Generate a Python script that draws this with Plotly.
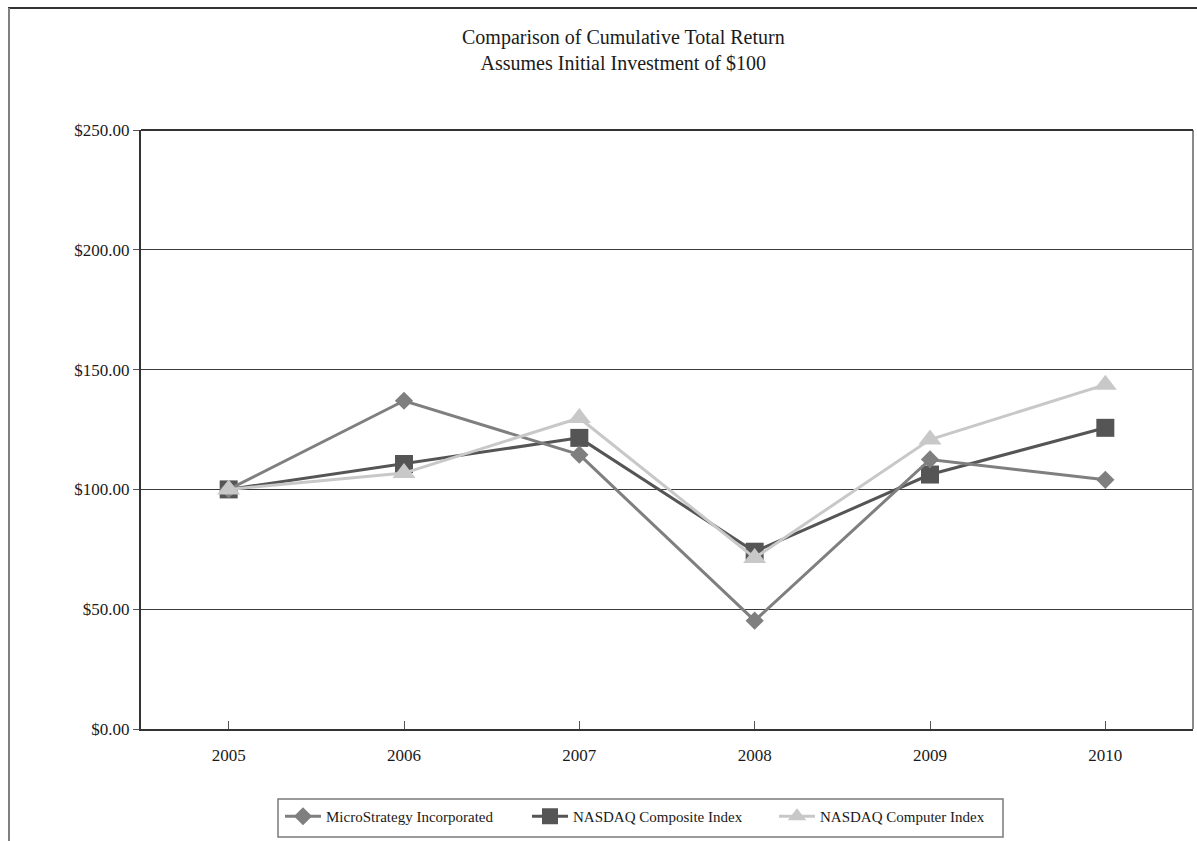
import plotly.graph_objects as go

years = ["2005", "2006", "2007", "2008", "2009", "2010"]
microstrategy = [100.0, 137.0, 114.5, 45.2, 112.5, 104.0]
nasdaq_composite = [100.0, 110.6, 121.5, 74.0, 106.2, 125.7]
nasdaq_computer = [100.0, 106.8, 129.8, 71.4, 120.8, 143.7]
y_ticks = [0, 50, 100, 150, 200, 250]
y_tick_labels = ["$0.00", "$50.00", "$100.00", "$150.00", "$200.00", "$250.00"]

FONT = "Liberation Serif, Times New Roman, serif"

fig = go.Figure()
fig.add_trace(go.Scatter(
    x=years, y=nasdaq_composite, name="NASDAQ Composite Index", legendrank=2,
    mode="lines+markers", line=dict(color="#555555", width=3),
    marker=dict(symbol="square", size=18, color="#555555")))
fig.add_trace(go.Scatter(
    x=years, y=microstrategy, name="MicroStrategy Incorporated", legendrank=1,
    mode="lines+markers", line=dict(color="#7f7f7f", width=3),
    marker=dict(symbol="diamond", size=14, color="#7f7f7f")))
fig.add_trace(go.Scatter(
    x=years, y=nasdaq_computer, name="NASDAQ Computer Index", legendrank=3,
    mode="lines+markers", line=dict(color="#c8c8c8", width=3),
    marker=dict(symbol="triangle-up", size=20, color="#c8c8c8")))

L, R, T, B = 141, 4, 130, 112
W, H = 1197, 841
pw, ph = W - L - R, H - T - B

def px_x(x):
    return (x - L) / pw

def px_y(y):
    return (H - B - y) / ph

shapes = [
    # outer frame: top and left
    dict(type="line", xref="paper", yref="paper", x0=px_x(8), x1=px_x(1197), y0=px_y(8), y1=px_y(8),
         line=dict(color="#333333", width=2)),
    dict(type="line", xref="paper", yref="paper", x0=px_x(9), x1=px_x(9), y0=px_y(8), y1=px_y(841),
         line=dict(color="#808080", width=2)),
    # right border of plot area
    dict(type="line", xref="paper", yref="paper", x0=1, x1=1, y0=0, y1=1,
         line=dict(color="#8a8a8a", width=2)),
    # top gridline at $250
    dict(type="line", xref="paper", yref="paper", x0=0, x1=1, y0=1, y1=1,
         line=dict(color="#333333", width=2)),
    # legend box
    dict(type="rect", xref="paper", yref="paper", x0=px_x(278), x1=px_x(1003), y0=px_y(799), y1=px_y(837),
         line=dict(color="#7a7a7a", width=1.5), fillcolor="rgba(0,0,0,0)"),
]

fig.update_layout(
    width=W, height=H,
    margin=dict(l=L, r=R, t=T, b=B),
    paper_bgcolor="white", plot_bgcolor="white",
    font=dict(family=FONT, color="#1a1a1a"),
    showlegend=True,
    legend=dict(
        orientation="h", x=px_x(280), y=px_y(800), xanchor="left", yanchor="top",
        borderwidth=0, bgcolor="rgba(0,0,0,0)",
        font=dict(family=FONT, size=15, color="#1a1a1a"),
        entrywidth=196, entrywidthmode="pixels", itemwidth=36,
        traceorder="normal",
    ),
    shapes=shapes,
    annotations=[dict(
        text="Comparison of Cumulative Total Return<br>Assumes Initial Investment of $100",
        xref="paper", yref="paper", x=px_x(623), y=px_y(50), xanchor="center", yanchor="middle",
        showarrow=False, font=dict(family=FONT, size=20, color="#1a1a1a"),
    )],
    xaxis=dict(
        type="category", range=[-0.5, 5.5], showgrid=False, zeroline=False,
        showline=True, linecolor="#333333", linewidth=2,
        ticks="inside", ticklen=8, tickcolor="#555555", tickwidth=1,
        tickfont=dict(family=FONT, size=17, color="#1a1a1a"), ticklabelstandoff=10,
    ),
    yaxis=dict(
        range=[0, 250], tickvals=y_ticks, ticktext=y_tick_labels,
        showgrid=True, gridcolor="#3a3a3a", gridwidth=1, zeroline=False,
        showline=True, linecolor="#333333", linewidth=2,
        ticks="outside", ticklen=6, tickcolor="#555555", tickwidth=1,
        tickfont=dict(family=FONT, size=17, color="#1a1a1a"),
    ),
)

fig.write_html("out.html")
